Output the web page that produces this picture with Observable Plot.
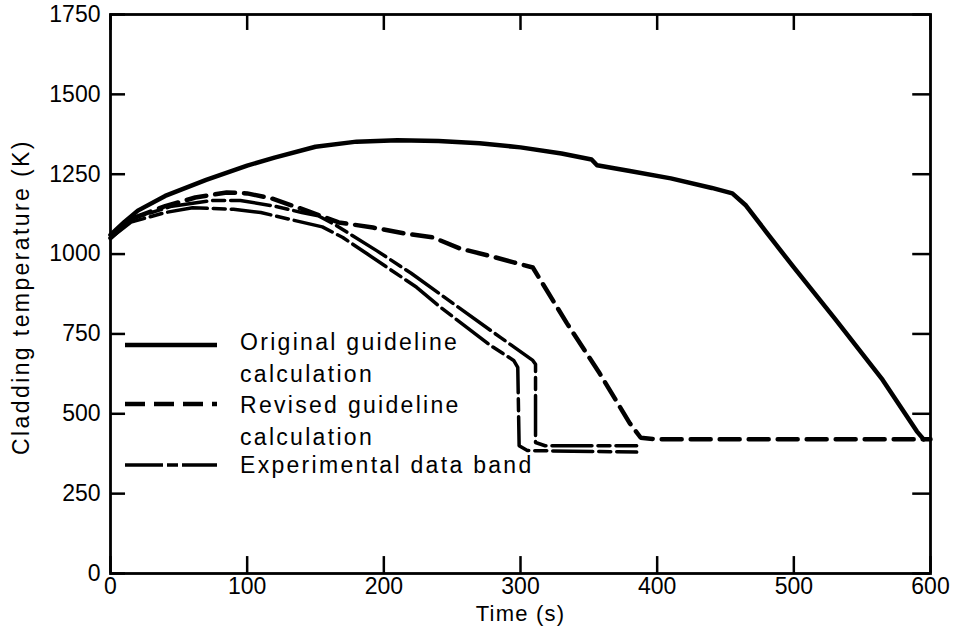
<!DOCTYPE html>
<html>
<head>
<meta charset="utf-8">
<script src="https://cdn.jsdelivr.net/npm/d3@7"></script>
<script src="https://cdn.jsdelivr.net/npm/@observablehq/plot@0.6"></script>
<style>
  html, body { margin: 0; padding: 0; background: #fff; }
  #wrap { position: relative; width: 959px; height: 642px; }
  #wrap svg { display: block; }
  #legend { position: absolute; left: 0; top: 0; pointer-events: none; }
  #legend text { font-family: "Liberation Sans", Arial, sans-serif; font-size: 23px; letter-spacing: 2.3px; fill: #000; }
</style>
</head>
<body>
<div id="wrap"></div>
<script>
// ---- data ----
const xTicks = [0, 100, 200, 300, 400, 500, 600];
const yTicks = [0, 250, 500, 750, 1000, 1250, 1500, 1750];

const originalTime = [0, 10, 20, 40, 70, 100, 120, 150, 180, 210, 240, 270, 300, 330, 352, 356, 380, 410, 440, 455, 465, 480, 500, 530, 565, 590, 595];
const originalTemp = [1060, 1100, 1136, 1182, 1232, 1277, 1302, 1336, 1352, 1356, 1354, 1347, 1334, 1315, 1296, 1278, 1260, 1237, 1207, 1190, 1152, 1068, 958, 798, 606, 445, 420];

const revisedTime = [0, 15, 40, 62, 85, 100, 118, 143, 167, 192, 216, 236, 256, 276, 295, 309, 334, 358, 380, 388, 400, 600];
const revisedTemp = [1050, 1110, 1150, 1177, 1193, 1190, 1174, 1137, 1099, 1083, 1064, 1052, 1017, 996, 974, 958, 783, 626, 470, 425, 420, 420];

const expUpperTime = [0, 15, 45, 75, 95, 120, 140, 152, 165, 195, 220, 254, 285, 309, 311, 311, 318, 385];
const expUpperTemp = [1060, 1110, 1150, 1168, 1168, 1150, 1130, 1120, 1090, 1010, 940, 835, 740, 667, 655, 410, 400, 400];

const expLowerTime = [0, 15, 40, 60, 90, 110, 130, 155, 170, 188, 224, 241, 278, 295, 298, 299, 305, 385];
const expLowerTemp = [1050, 1100, 1130, 1145, 1140, 1130, 1110, 1085, 1052, 1000, 896, 835, 714, 667, 645, 400, 385, 380];

const xTitle = "Time (s)";
const yTitle = "Cladding temperature (K)";
const legendLabels = [["Original guideline", "calculation"], ["Revised guideline", "calculation"], ["Experimental data band"]];

// ---- build ----
const toRows = (ts, vs) => ts.map((t, i) => ({t, v: vs[i]}));
const original = toRows(originalTime, originalTemp);
const revised = toRows(revisedTime, revisedTemp);
const expUpper = toRows(expUpperTime, expUpperTemp);
const expLower = toRows(expLowerTime, expLowerTemp);

const ink = "#000";
const revisedDash = "20,9";
const expDash = "40,6,12,6";

const chart = Plot.plot({
  width: 959,
  height: 642,
  marginLeft: 110,
  marginRight: 29,
  marginTop: 14,
  marginBottom: 69,
  x: {domain: [0, 600]},
  y: {domain: [0, 1750]},
  style: {fontFamily: "Liberation Sans, Arial, sans-serif", fontSize: "23px", color: "#000", background: "#fff"},
  marks: [
    Plot.axisX({ticks: xTicks, tickSize: 0, tickPadding: 4, tickFormat: d => String(d), label: null, fontSize: 23}),
    Plot.axisY({ticks: yTicks, tickSize: 0, tickPadding: 10, tickFormat: d => String(d), label: null, fontSize: 23}),
    // inward tick marks on all four sides
    Plot.ruleY(yTicks, {y: d => d, x1: 0, x2: 11, stroke: ink, strokeWidth: 2.5}),
    Plot.ruleY(yTicks, {y: d => d, x1: 600, x2: 587, stroke: ink, strokeWidth: 2.5}),
    Plot.ruleX(xTicks, {x: d => d, y1: 0, y2: 53, stroke: ink, strokeWidth: 2.5}),
    Plot.ruleX(xTicks, {x: d => d, y1: 1750, y2: 1700, stroke: ink, strokeWidth: 2.5}),
    Plot.frame({stroke: ink, strokeWidth: 2.8}),
    // series
    Plot.line(expLower, {x: "t", y: "v", stroke: ink, strokeWidth: 3.5, strokeDasharray: expDash}),
    Plot.line(expUpper, {x: "t", y: "v", stroke: ink, strokeWidth: 3.5, strokeDasharray: expDash}),
    Plot.line(revised, {x: "t", y: "v", stroke: ink, strokeWidth: 4.5, strokeDasharray: revisedDash}),
    Plot.line(original, {x: "t", y: "v", stroke: ink, strokeWidth: 4.5}),
    // axis titles
    Plot.text([xTitle], {frameAnchor: "bottom", dy: 40, lineAnchor: "middle", textAnchor: "middle", text: d => d, fill: ink, fontSize: 22}),
    Plot.text([yTitle], {frameAnchor: "left", dx: -89, dy: 3, rotate: -90, textAnchor: "middle", lineAnchor: "middle", text: d => d, fill: ink, fontSize: 23})
  ]
});

const wrap = document.getElementById("wrap");
wrap.appendChild(chart);
const allText = d3.select(chart).selectAll("text");
allText.filter(function() { return this.textContent === yTitle; })
  .attr("letter-spacing", "2.4").style("letter-spacing", "2.4px");
allText.filter(function() { return this.textContent === xTitle; })
  .attr("letter-spacing", "1.2").style("letter-spacing", "1.2px");

// ---- legend overlay (inside the plot area, lower-left) ----
const ns = "http://www.w3.org/2000/svg";
const leg = document.createElementNS(ns, "svg");
leg.setAttribute("id", "legend");
leg.setAttribute("width", 959);
leg.setAttribute("height", 642);
const entries = [
  {lines: legendLabels[0], lineY: 345, textY: 350, dash: null, w: 4.5},
  {lines: legendLabels[1], lineY: 404, textY: 413, dash: revisedDash, w: 4.5},
  {lines: legendLabels[2], lineY: 465, textY: 473, dash: "38,4,11,4", w: 3.5}
];
entries.forEach(e => {
  const l = document.createElementNS(ns, "line");
  l.setAttribute("x1", 125); l.setAttribute("x2", 217);
  l.setAttribute("y1", e.lineY); l.setAttribute("y2", e.lineY);
  l.setAttribute("stroke", ink); l.setAttribute("stroke-width", e.w);
  if (e.dash) l.setAttribute("stroke-dasharray", e.dash);
  leg.appendChild(l);
  e.lines.forEach((s, i) => {
    const t = document.createElementNS(ns, "text");
    t.setAttribute("x", 240);
    t.setAttribute("y", e.textY + i * 32);
    t.textContent = s;
    leg.appendChild(t);
  });
});
wrap.appendChild(leg);
</script>
</body>
</html>
